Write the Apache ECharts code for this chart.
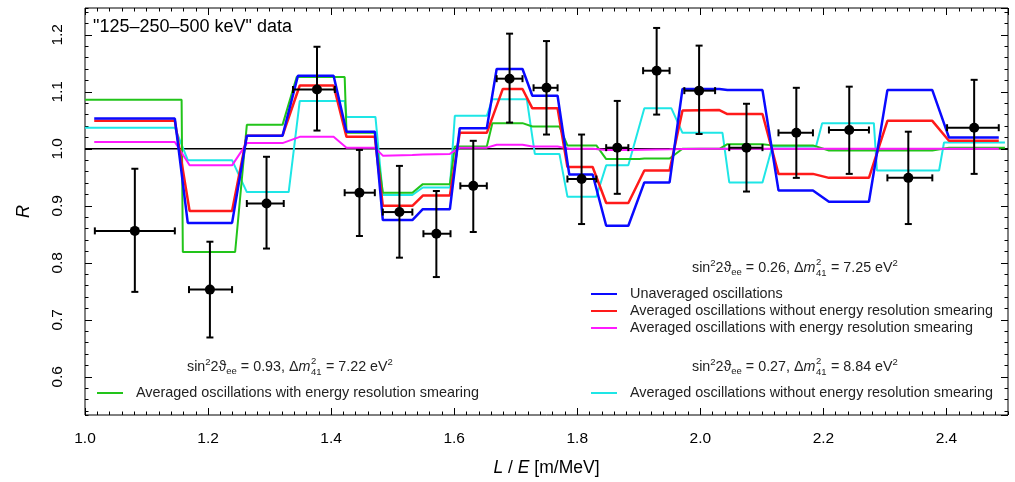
<!DOCTYPE html>
<html><head><meta charset="utf-8">
<script src="https://cdn.jsdelivr.net/npm/echarts@6/dist/echarts.min.js"></script>
<style>html,body{margin:0;padding:0;background:#fff}#c{width:1015px;height:482px}</style>
</head><body><div id="c"></div>
<script>
const FONT = '"Liberation Sans", Arial, Helvetica, sans-serif';

// ---- data points with error bars ----
const pointX     = [1.081,1.203,1.295,1.377,1.446,1.511,1.571,1.631,1.690,1.750,1.807,1.865,1.929,1.998,2.075,2.156,2.242,2.338,2.445];
const pointXLow  = [1.016,1.169,1.263,1.338,1.422,1.484,1.550,1.610,1.669,1.729,1.784,1.847,1.907,1.974,2.047,2.127,2.209,2.304,2.401];
const pointXHigh = [1.146,1.239,1.323,1.406,1.471,1.532,1.594,1.653,1.711,1.768,1.831,1.883,1.950,2.024,2.101,2.183,2.274,2.377,2.485];
const pointR     = [0.856,0.753,0.904,1.104,0.923,0.889,0.851,0.935,1.123,1.107,0.947,1.002,1.137,1.102,1.002,1.028,1.033,0.949,1.037];
const pointRLow  = [0.749,0.669,0.825,1.032,0.847,0.809,0.775,0.854,1.046,1.025,0.868,0.921,1.060,1.026,0.925,0.949,0.956,0.868,0.956];
const pointRHigh = [0.965,0.837,0.986,1.179,0.998,0.970,0.926,1.014,1.202,1.189,1.025,1.084,1.212,1.181,1.079,1.107,1.109,1.030,1.121];

// ---- model curves [L/E, R] ----
const unaveraged = [[1.015,1.053],[1.146,1.053],[1.167,0.870],[1.239,0.870],[1.263,1.023],[1.321,1.023],[1.346,1.128],[1.404,1.128],[1.425,1.030],[1.471,1.030],[1.484,0.875],[1.532,0.875],[1.549,0.894],[1.593,0.894],[1.609,1.036],[1.653,1.036],[1.669,1.140],[1.711,1.140],[1.727,1.093],[1.768,1.093],[1.787,0.955],[1.825,0.955],[1.847,0.865],[1.883,0.865],[1.909,0.941],[1.950,0.941],[1.971,1.105],[2.031,1.105],[2.044,1.103],[2.101,1.103],[2.127,0.927],[2.183,0.927],[2.209,0.907],[2.274,0.907],[2.304,1.103],[2.377,1.103],[2.404,1.020],[2.485,1.020]];
const avgNoSmear026 = [[1.015,1.049],[1.146,1.049],[1.170,0.891],[1.239,0.891],[1.263,1.023],[1.321,1.023],[1.349,1.111],[1.404,1.111],[1.425,1.021],[1.471,1.021],[1.484,0.900],[1.532,0.900],[1.549,0.918],[1.593,0.918],[1.609,1.028],[1.653,1.028],[1.679,1.105],[1.711,1.105],[1.727,1.071],[1.768,1.071],[1.784,0.968],[1.825,0.968],[1.847,0.905],[1.883,0.905],[1.909,0.962],[1.950,0.962],[1.971,1.067],[2.031,1.068],[2.044,1.061],[2.101,1.061],[2.127,0.956],[2.183,0.956],[2.209,0.949],[2.274,0.949],[2.304,1.049],[2.377,1.049],[2.404,1.014],[2.485,1.014]];
const avgSmear026 = [[1.015,1.012],[1.146,1.012],[1.170,0.971],[1.239,0.971],[1.263,1.010],[1.321,1.010],[1.349,1.021],[1.404,1.021],[1.425,1.002],[1.471,1.002],[1.484,0.988],[1.532,0.989],[1.549,0.990],[1.593,0.991],[1.609,1.002],[1.653,1.002],[1.669,1.007],[1.711,1.007],[1.727,1.004],[1.768,1.004],[1.787,1.000],[1.825,1.000],[1.847,0.998],[1.883,0.998],[1.950,0.999],[2.000,1.000],[2.485,1.000]];
const avgSmear093 = [[1.000,1.086],[1.157,1.086],[1.159,0.819],[1.244,0.819],[1.263,1.042],[1.321,1.042],[1.344,1.126],[1.422,1.126],[1.425,1.028],[1.471,1.028],[1.484,0.923],[1.532,0.923],[1.549,0.938],[1.593,0.938],[1.601,1.004],[1.653,1.004],[1.662,1.045],[1.711,1.045],[1.727,1.039],[1.771,1.039],[1.784,1.006],[1.831,1.006],[1.847,0.982],[1.901,0.982],[1.909,0.983],[1.950,0.983],[1.971,1.000],[2.031,1.000],[2.044,1.008],[2.101,1.008],[2.117,1.006],[2.183,1.006],[2.209,0.997],[2.377,0.997],[2.404,1.002],[2.495,1.002]];
const avgNoSmear027 = [[1.000,1.037],[1.146,1.037],[1.167,0.980],[1.239,0.980],[1.263,0.924],[1.331,0.924],[1.349,1.084],[1.422,1.084],[1.425,1.056],[1.472,1.056],[1.484,0.919],[1.532,0.919],[1.549,0.932],[1.593,0.932],[1.601,1.058],[1.653,1.058],[1.662,1.087],[1.718,1.087],[1.731,0.991],[1.771,0.991],[1.784,0.916],[1.831,0.916],[1.847,0.971],[1.883,0.971],[1.909,1.071],[1.953,1.071],[1.971,1.028],[2.036,1.028],[2.047,0.941],[2.101,0.941],[2.117,1.004],[2.188,1.004],[2.198,1.045],[2.282,1.045],[2.287,0.962],[2.388,0.962],[2.396,1.011],[2.495,1.011]];
const unity = [[1.0,1.0],[2.5,1.0]];

const title = '"125\u2013250\u2013500 keV" data';
const legendNames = ['Unaveraged oscillations','Averaged oscillations without energy resolution smearing','Averaged oscillations with energy resolution smearing'];
const legendName093 = 'Averaged oscillations with energy resolution smearing';
const legendName027 = 'Averaged oscillations without energy resolution smearing';
const params026 = ['0.26','7.25'];
const params093 = ['0.93','7.22'];
const params027 = ['0.27','8.84'];

const C = {blue:'#0a0aff', red:'#ff1a1a', magenta:'#ff1aff', green:'#22c41a', cyan:'#1ee6e6'};

// ---- text measuring for formula layout ----
const mctx = document.createElement('canvas').getContext('2d');
function tw(t, size, italic){ mctx.font = (italic?'italic ':'') + size + 'px ' + FONT; return mctx.measureText(t).width; }

function formula(x0, yc, s2, dm){
  const M = 14.3, S = 9.5;
  const parts = [
    {t:'sin'}, {t:'2', sup:1}, {t:'2\u03d1'}, {t:'ee', sub:1}, {t:' = ' + s2 + ', \u0394'},
    {t:'m', it:1}, {stack:['2','41']}, {t:' = ' + dm + ' eV'}, {t:'2', sup:1}
  ];
  const els = []; let x = x0;
  const mk = (t, xx, yy, size, it) => ({type:'text', x:xx, y:yy, silent:true, style:{text:t, fontSize:size, fontFamily:FONT, fontStyle: it?'italic':'normal', fill:'#222', align:'left', verticalAlign:'middle'}});
  for (const p of parts){
    if (p.stack){
      els.push(mk(p.stack[0], x+0.5, yc-6, S));
      els.push(mk(p.stack[1], x+0.5, yc+5, S));
      x += Math.max(tw(p.stack[0],S), tw(p.stack[1],S)) + 1;
    } else if (p.sup){ els.push(mk(p.t, x, yc-5, S)); x += tw(p.t,S); }
    else if (p.sub){ els.push(mk(p.t, x, yc+4, S)); x += tw(p.t,S); }
    else { els.push(mk(p.t, x, yc, M, p.it)); x += tw(p.t, M, p.it); }
  }
  return els;
}
function legendItem(x1, x2, y, color, text){
  return [
    {type:'line', silent:true, shape:{x1:x1, y1:y, x2:x2, y2:y}, style:{stroke:color, lineWidth:2}},
    {type:'text', x:x2+13, y:y, silent:true, style:{text:text, fontSize:14.4, fontFamily:FONT, fill:'#222', align:'left', verticalAlign:'middle'}}
  ];
}

const graphics = [].concat(
  [{type:'text', x:93, y:27, silent:true, style:{text:title, fontSize:18, fontFamily:FONT, fill:'#000', align:'left', verticalAlign:'middle'}}],
  formula(692, 268, params026[0], params026[1]),
  legendItem(591, 617, 294, C.blue, legendNames[0]),
  legendItem(591, 617, 311, C.red, legendNames[1]),
  legendItem(591, 617, 328, C.magenta, legendNames[2]),
  formula(187, 367, params093[0], params093[1]),
  legendItem(97, 123, 393, C.green, legendName093),
  formula(692, 367, params027[0], params027[1]),
  legendItem(591, 617, 393, C.cyan, legendName027)
);

const errData = pointX.map((x,i)=>[x, pointR[i], pointXLow[i], pointXHigh[i], pointRLow[i], pointRHigh[i]]);

const X_MIN = 1.0, X_MAX = 2.5, Y_MIN = 0.533, Y_MAX = 1.247;
const axisCommonX = {type:'value', min:X_MIN, max:X_MAX, splitLine:{show:false}, axisLine:{show:false}};
const axisCommonY = {type:'value', min:Y_MIN, max:Y_MAX, splitLine:{show:false}, axisLine:{show:false}};
const tickStyle = {color:'#000', width:1};

const option = {
  animation:false,
  backgroundColor:'#fff',
  grid:{left:85, right:7, top:8, bottom:67, show:true, borderColor:'#000', borderWidth:1, backgroundColor:'transparent'},
  xAxis:[
    Object.assign({}, axisCommonX, {position:'bottom', interval:0.2,
      axisTick:{inside:true, length:7, lineStyle:tickStyle},
      axisLabel:{fontSize:15.5, color:'#000', fontFamily:FONT, margin:16, showMaxLabel:false, formatter:v=>v.toFixed(1)},
      name:'{i|L} / {i|E} [m/MeV]', nameLocation:'middle', nameGap:44,
      nameTextStyle:{fontSize:17.5, color:'#000', fontFamily:FONT, rich:{i:{fontStyle:'italic', fontSize:17.5, fontFamily:FONT, color:'#000'}}}}),
    Object.assign({}, axisCommonX, {position:'bottom', interval:0.02, axisTick:{inside:true, length:3.5, lineStyle:tickStyle}, axisLabel:{show:false}}),
    Object.assign({}, axisCommonX, {position:'top', interval:0.2, axisTick:{inside:true, length:7, lineStyle:tickStyle}, axisLabel:{show:false}}),
    Object.assign({}, axisCommonX, {position:'top', interval:0.02, axisTick:{inside:true, length:3.5, lineStyle:tickStyle}, axisLabel:{show:false}})
  ],
  yAxis:[
    Object.assign({}, axisCommonY, {position:'left', splitNumber:7,
      axisTick:{inside:true, length:7, lineStyle:tickStyle},
      axisLabel:{fontSize:15.5, color:'#000', fontFamily:FONT, margin:19, rotate:90, showMinLabel:false, showMaxLabel:false, formatter:v=>v.toFixed(1)},
      name:'R', nameLocation:'middle', nameRotate:90, nameGap:52,
      nameTextStyle:{fontSize:18, fontStyle:'italic', color:'#000', fontFamily:FONT}}),
    Object.assign({}, axisCommonY, {position:'left', splitNumber:36, axisTick:{inside:true, length:3.5, lineStyle:tickStyle}, axisLabel:{show:false}}),
    Object.assign({}, axisCommonY, {position:'right', splitNumber:7, axisTick:{inside:true, length:7, lineStyle:tickStyle}, axisLabel:{show:false}}),
    Object.assign({}, axisCommonY, {position:'right', splitNumber:36, axisTick:{inside:true, length:3.5, lineStyle:tickStyle}, axisLabel:{show:false}})
  ],
  graphic: graphics,
  series:[
    {type:'line', data:unity, showSymbol:false, lineStyle:{color:'#000', width:1.5}, z:2, silent:true},
    {type:'line', data:avgNoSmear027, showSymbol:false, lineStyle:{color:C.cyan, width:2}, z:3, silent:true},
    {type:'line', data:avgSmear093, showSymbol:false, lineStyle:{color:C.green, width:2}, z:4, silent:true},
    {type:'line', data:avgSmear026, showSymbol:false, lineStyle:{color:C.magenta, width:2}, z:5, silent:true},
    {type:'line', data:avgNoSmear026, showSymbol:false, lineStyle:{color:C.red, width:2.5}, z:6, silent:true},
    {type:'line', data:unaveraged, showSymbol:false, lineStyle:{color:C.blue, width:2.5}, z:7, silent:true},
    {type:'custom', data:errData, z:10, silent:true,
     renderItem:function(params, api){
       const x=api.value(0), y=api.value(1), xl=api.value(2), xh=api.value(3), yl=api.value(4), yh=api.value(5);
       const c=api.coord([x,y]), L=api.coord([xl,y]), H=api.coord([xh,y]), B=api.coord([x,yl]), T=api.coord([x,yh]);
       const cap=3.5, st={stroke:'#000', lineWidth:2};
       const ln=(a,b,d,e)=>({type:'line', shape:{x1:a,y1:b,x2:d,y2:e}, style:st});
       return {type:'group', children:[
         ln(L[0],c[1],H[0],c[1]), ln(c[0],B[1],c[0],T[1]),
         ln(L[0],c[1]-cap,L[0],c[1]+cap), ln(H[0],c[1]-cap,H[0],c[1]+cap),
         ln(c[0]-cap,B[1],c[0]+cap,B[1]), ln(c[0]-cap,T[1],c[0]+cap,T[1]),
         {type:'circle', shape:{cx:c[0], cy:c[1], r:5}, style:{fill:'#000'}}
       ]};
     }}
  ]
};
const chart = echarts.init(document.getElementById('c'), null, {renderer:'canvas'});
chart.setOption(option);
</script></body></html>
